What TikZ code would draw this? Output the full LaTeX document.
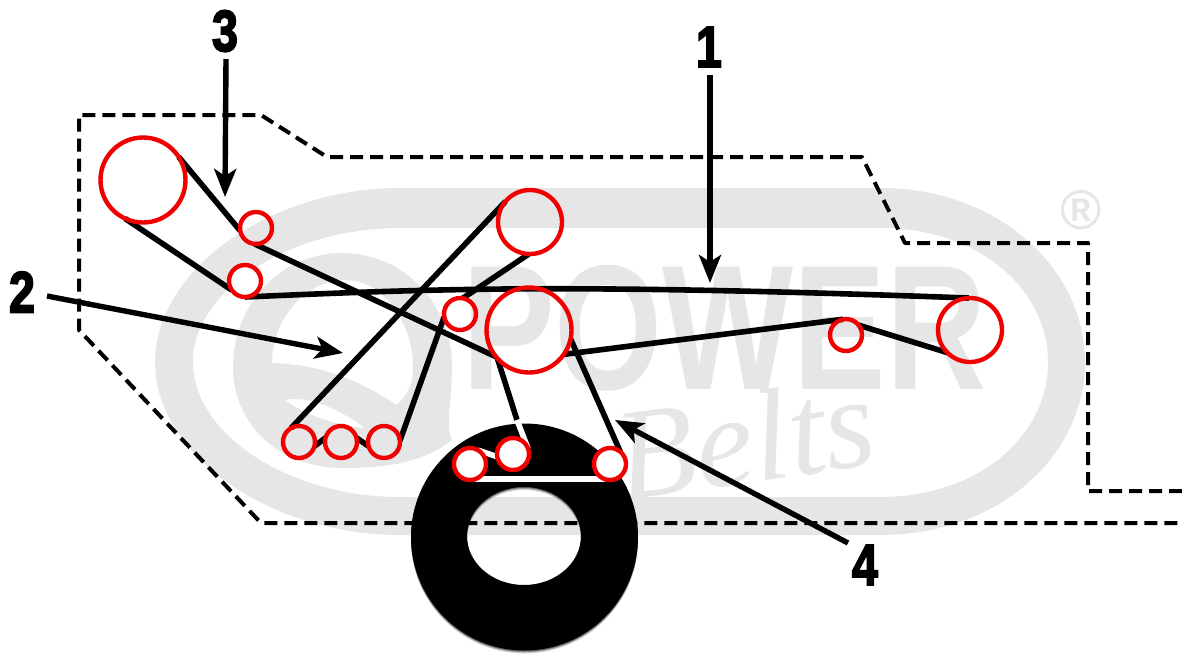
\documentclass[tikz,border=0pt]{standalone}
\usepackage{fontspec}
\setmainfont{Liberation Sans}
\newfontfamily\numfont[FakeBold=3.5]{Liberation Sans Bold}
\newfontfamily\markfont{Liberation Sans Bold}
\newfontfamily\beltsfont{Liberation Serif Italic}
\usetikzlibrary{arrows.meta}
\pgfdeclarelayer{front}
\pgfsetlayers{main,front}
\definecolor{wm}{HTML}{E6E6E6}
\definecolor{pulleyred}{HTML}{F00000}
\tikzset{
  pulley/.style={circle,draw=pulleyred,line width=4.4pt,inner sep=0pt,outer sep=0pt,minimum size=#1},
  belt/.style={line width=5.6pt,black},
  wbelt/.style={line width=5.6pt,white},
  callout/.style={line width=5.4pt,black,-{Stealth[length=28pt,width=22pt,inset=7pt]}},
  num/.style={inner sep=0pt,font=\numfont\fontsize{58}{58}\selectfont,xscale=.8},
  outline/.style={line width=4pt,black,dash pattern=on 13pt off 7pt},
  wmfill/.style={fill=wm,even odd rule},
}
\begin{document}
\begin{tikzpicture}[x=1pt,y=-1pt]
\useasboundingbox (0,0) rectangle (1182,656);
% watermark
\fill[wmfill] (400,188) -- (880,188) .. controls (1000,188) and (1085,270) .. (1085,362)
   .. controls (1085,455) and (1000,535) .. (880,535) -- (400,535)
   .. controls (270,535) and (155,455) .. (155,362) .. controls (155,270) and (270,188) .. (400,188) -- cycle
   (400,228) -- (880,228) .. controls (980,228) and (1048,290) .. (1048,362)
   .. controls (1048,435) and (980,497) .. (880,497) -- (400,497)
   .. controls (290,497) and (193,435) .. (193,362) .. controls (193,290) and (290,228) .. (400,228) -- cycle;
\fill[wmfill] (342,253) .. controls (405,253) and (452,305) .. (452,367) .. controls (452,400) and (445,425) .. (452,440)
   .. controls (420,465) and (380,468) .. (342,468)
   .. controls (280,468) and (233,425) .. (233,367) .. controls (233,305) and (280,253) .. (342,253) -- cycle
   (345,280) .. controls (385,280) and (413,325) .. (413,367) .. controls (413,385) and (407,395) .. (397,405)
   .. controls (365,385) and (330,365) .. (272,363) .. controls (272,320) and (305,280) .. (345,280) -- cycle
   (285,400) .. controls (310,395) and (340,410) .. (365,428) .. controls (335,425) and (305,415) .. (285,400) -- cycle;
\node[inner sep=0pt,text=wm,xscale=.78,anchor=west,font=\markfont\fontsize{178}{178}\selectfont] (wmpower) at (462,328) {POWER};
\node[inner sep=0pt,text=wm,rotate=8,font=\beltsfont\fontsize{130}{130}\selectfont] (wmbelts) at (745,438) {Belts};
\node[inner sep=0pt,text=wm,font=\markfont\fontsize{56}{56}\selectfont] (wmreg) at (1081,210) {®};
% frame
\draw[outline,line join=round] (1182,491) -- (1088,491) -- (1088,243) -- (905,243) -- (862,157) -- (327,157) -- (261,115) -- (79,115) -- (79,330) -- (261,523) -- (1182,523);
% tyre: soft lower edges
\foreach \d/\o in {3/.15,2/.25,1/.4,0/1}{
  \fill[black,opacity=\o,even odd rule] (524.5,537+\d) circle[radius=113.5] (524,536+\d) ellipse[x radius=57,y radius=49];
}
% pulleys
\begin{pgfonlayer}{front}
\node[pulley=85pt] (a) at (143,180) {};
\node[pulley=32pt] (b) at (256,228) {};
\node[pulley=32pt,fill=white] (c) at (245,281) {};
\node[pulley=64pt] (d) at (530,222) {};
\node[pulley=32pt] (e) at (460,314) {};
\node[pulley=85pt] (f) at (529,330) {};
\node[pulley=32pt] (g) at (299,442) {};
\node[pulley=32pt] (h) at (341,442) {};
\node[pulley=32pt] (i) at (384,442) {};
\node[pulley=32pt,fill=white] (j) at (513,454) {};
\node[pulley=32pt,fill=white] (k) at (470,464) {};
\node[pulley=32pt,fill=white] (l) at (610,464) {};
\node[pulley=32pt] (m) at (846,335) {};
\node[pulley=64pt] (n) at (970,330) {};
\end{pgfonlayer}
% belts
\draw[belt] (a.33) -- (b.190);
\draw[belt] (b.265) -- (f.219);
\draw[belt] (a.245) -- (c.215);
\draw[belt] (c.270) .. controls (430,289) and (560,283) .. (n.92);
\draw[belt] (g.120) -- (d.140);
\draw[belt] (d.268) -- (e.80);
\draw[belt] (e.190) -- (i.5);
\draw[belt] (g.-15) -- (h.165);
\draw[belt] (h.15) -- (i.195);
\coordinate (bend) at (517,420);
\draw[belt] (f.222) -- (bend);
\draw[wbelt] (bend) -- (j.20);
\draw[wbelt] (k.60) -- (j.190);
\draw[wbelt] (k.-70) -- (l.250);
\draw[belt] (f.-12) -- (l.50);
\draw[belt] (f.-35) -- (m.100);
\draw[belt] (m.38) -- (n.225);
% callouts
\node[num] (n1) at (709,47) {1};
\node[num] (n2) at (22,292) {2};
\node[num] (n3) at (225,31) {3};
\node[num] (n4) at (865,565) {4};
\coordinate (t1) at (710,283);
\coordinate (t2) at (343,353);
\coordinate (t3) at (225,197);
\coordinate (t4) at (615,420);
\draw[callout] (710,75) -- (t1);
\draw[callout] (47,296) -- (t2);
\draw[callout] (226,59) -- (t3);
\draw[callout] (848,543) -- (t4);
\end{tikzpicture}
\end{document}
